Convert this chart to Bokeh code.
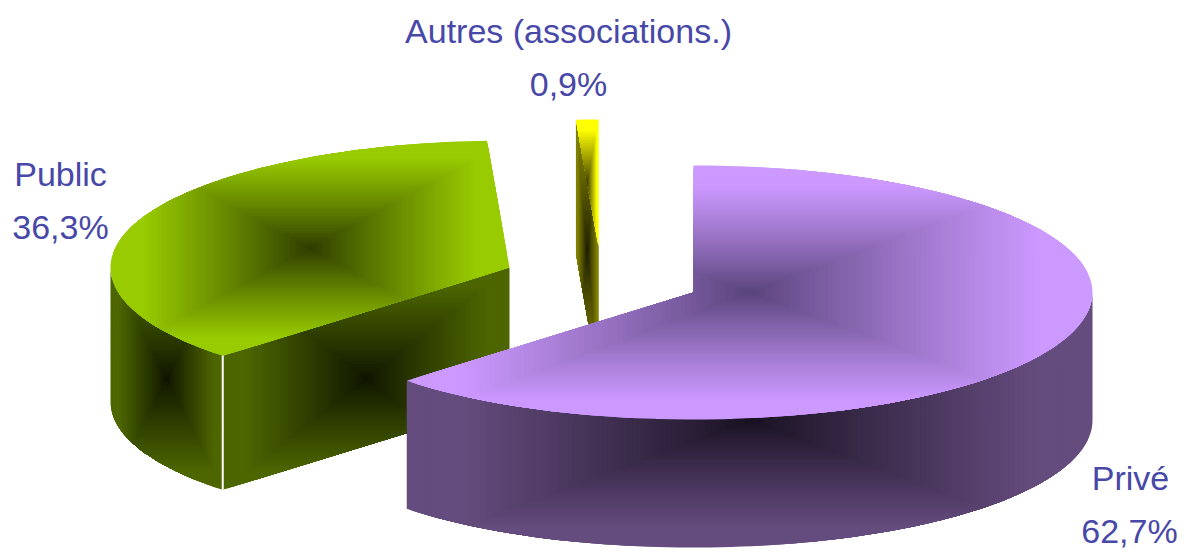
import math
from bokeh.plotting import figure
from bokeh.models import ColumnDataSource
from bokeh.core.properties import value
from bokeh.embed import file_html
from bokeh.resources import INLINE

# ---- data ----
labels = ["Privé", "Public", "Autres (associations.)"]
shares = [62.7, 36.3, 0.9]
share_labels = ["62,7%", "36,3%", "0,9%"]

# ---- styles / layout (page pixels of the reference) ----
W, H = 1184, 553
RX, RY = 399, 127
top_edge = ["#cc99ff", "#99cc00", "#ffff00"]
top_mid = ["#58437a", "#2c3a00", "#3a3a00"]
side_edge = ["#654c7e", "#4d6600", "#808000"]
side_mid = ["#171020", "#0e1300", "#1c1c00"]
centres = [(693, 292), (509, 267), (598, 246)]
depths = [128, 134, 134]
label_pos = [(1130, 477), (60, 173), (568, 30)]
pct_pos = [(1129, 530), (60, 226), (568, 83)]
text_colour = "#4848a8"
STEPS = 70

p = figure(width=W, height=H, x_range=(0, W), y_range=(H, 0),
           output_backend="svg", toolbar_location=None, min_border=0)
p.axis.visible = False
p.grid.visible = False
p.outline_line_color = None
p.background_fill_color = "#ffffff"
p.border_fill_color = "#ffffff"


def rgb(h):
    return [int(h[i:i + 2], 16) for i in (1, 3, 5)]


def mix(a, b, t):
    ca, cb = rgb(a), rgb(b)
    return "#%02x%02x%02x" % tuple(round(x + (y - x) * t) for x, y in zip(ca, cb))


def clip_half(poly, inside, cross):
    out = []
    for i, cur in enumerate(poly):
        prev = poly[i - 1]
        if inside(cur):
            if not inside(prev):
                out.append(cross(prev, cur))
            out.append(cur)
        elif inside(prev):
            out.append(cross(prev, cur))
    return out


def clip_rect(poly, x0, x1, y0, y1):
    def cx(v):
        return lambda a, b: (v, a[1] + (b[1] - a[1]) * (v - a[0]) / (b[0] - a[0]))

    def cy(v):
        return lambda a, b: (a[0] + (b[0] - a[0]) * (v - a[1]) / (b[1] - a[1]), v)

    for inside, cross in [(lambda q: q[0] >= x0, cx(x0)), (lambda q: q[0] <= x1, cx(x1)),
                          (lambda q: q[1] >= y0, cy(y0)), (lambda q: q[1] <= y1, cy(y1))]:
        poly = clip_half(poly, inside, cross)
        if not poly:
            break
    return poly


def shaded(poly, edge, mid):
    """Face filled with a box gradient, running from the centre of its bounding box."""
    xs_, ys_ = [q[0] for q in poly], [q[1] for q in poly]
    x0, x1, y0, y1 = min(xs_), max(xs_), min(ys_), max(ys_)
    mx, my, hx, hy = (x0 + x1) / 2, (y0 + y1) / 2, (x1 - x0) / 2, (y1 - y0) / 2
    px, py, cols = [], [], []
    for k in range(STEPS, 0, -1):
        s = k / STEPS
        c = clip_rect(poly, mx - hx * s, mx + hx * s, my - hy * s, my + hy * s)
        if len(c) < 3:
            continue
        px.append([q[0] for q in c])
        py.append([q[1] for q in c])
        cols.append(mix(mid, edge, min(1.0, s / 0.85) ** 0.9))
    p.patches(px, py, fill_color=cols, line_color=None)


def pt(c, a, dz=0):
    return (c[0] + RX * math.sin(a), c[1] - RY * math.cos(a) + dz)


def arc(c, a0, a1, dz=0, n=90):
    return [pt(c, a0 + (a1 - a0) * i / n, dz) for i in range(n + 1)]


total = sum(shares)
angles = []
acc = 0.0
for v in shares:
    angles.append((acc, acc + v / total * 2 * math.pi))
    acc = angles[-1][1]

# draw order: back slices first, Privé in front
# Public
c, d = centres[1], depths[1]
a0, a1 = angles[1]
outer = arc(c, a0, 1.5 * math.pi)
shaded(outer + arc(c, 1.5 * math.pi, a0, d), side_edge[1], side_mid[1])
tip = pt(c, a0)
shaded([tip, c, (c[0], c[1] + d), (tip[0], tip[1] + d)], side_edge[1], side_mid[1])
shaded(arc(c, a0, a1) + [c], top_edge[1], top_mid[1])
p.line([tip[0], tip[0]], [tip[1], tip[1] + d], line_color="#ffffff", line_width=2)

# Autres
c, d = centres[2], depths[2]
a0, a1 = angles[2]
s0 = pt(c, a0)
shaded([s0, c, (c[0], c[1] + d), (s0[0], s0[1] + d)], side_edge[2], side_mid[2])
shaded(arc(c, a0, a1, n=8) + [c], top_edge[2], top_mid[2])

# Privé
c, d = centres[0], depths[0]
a0, a1 = angles[0]
shaded(arc(c, 0.5 * math.pi, a1) + arc(c, a1, 0.5 * math.pi, d), side_edge[0], side_mid[0])
shaded(arc(c, a0, a1) + [c], top_edge[0], top_mid[0])

# Texts
src = ColumnDataSource(dict(
    x=[q[0] for q in label_pos] + [q[0] for q in pct_pos],
    y=[q[1] for q in label_pos] + [q[1] for q in pct_pos],
    t=labels + share_labels,
))
p.text("x", "y", text="t", source=src, text_align="center", text_baseline="alphabetic",
       text_font=value("Liberation Sans"), text_font_size="34px", text_color=text_colour)

open("out.html", "w").write(file_html(p, INLINE))
